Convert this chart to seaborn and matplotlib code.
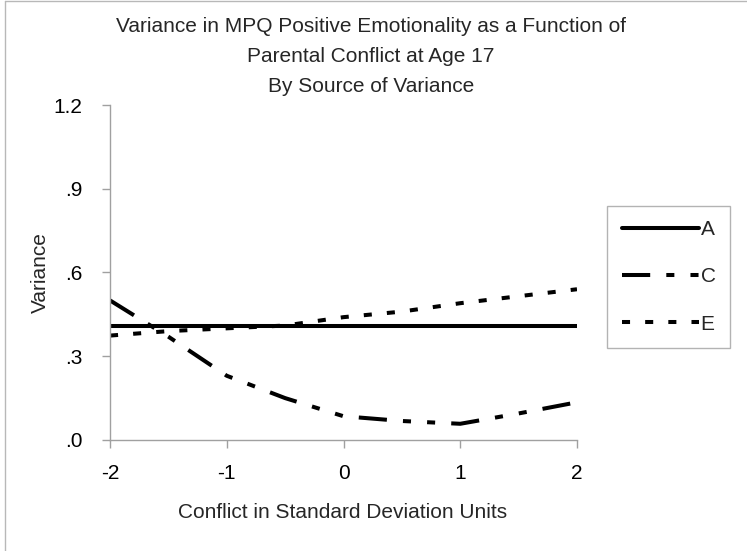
import numpy as np
import pandas as pd
import matplotlib.pyplot as plt
from matplotlib.lines import Line2D
import seaborn as sns

sns.set_style("white")
plt.rcParams["font.family"] = ["Liberation Sans", "DejaVu Sans"]

# Valeurs
CONFLICT = [-2.0, -1.5, -1.0, -0.5, 0.0, 0.5, 1.0, 1.5, 2.0]
VAR_A = [0.41, 0.41, 0.41, 0.41, 0.41, 0.41, 0.41, 0.41, 0.41]
VAR_C = [0.50, 0.37, 0.23, 0.15, 0.085, 0.068, 0.058, 0.095, 0.135]
VAR_E = [0.374, 0.39, 0.40, 0.41, 0.44, 0.46, 0.49, 0.515, 0.54]
SOURCES = ["A", "C", "E"]
Y_TICKS = [0.0, 0.3, 0.6, 0.9, 1.2]
Y_LABELS = [".0", ".3", ".6", ".9", "1.2"]
X_TICKS = [-2, -1, 0, 1, 2]

df = pd.DataFrame({"conflict": CONFLICT, "A": VAR_A, "C": VAR_C, "E": VAR_E})
df = df.melt(id_vars="conflict", var_name="source", value_name="variance")

GRAY = "#a0a0a0"
FS = 15

fig = plt.figure(figsize=(7.47, 5.51), dpi=100)
ax = fig.add_axes([0.1473, 0.2015, 0.6251, 0.6079])

dashes = {"A": "", "C": (7, 4, 2, 4, 2, 4), "E": (2, 3.75)}
sns.lineplot(data=df, x="conflict", y="variance", style="source",
             style_order=SOURCES, dashes=dashes, color="black",
             linewidth=2.9, ax=ax)

ax.set_xlim(-2, 2)
ax.set_ylim(0, 1.2)
ax.set_xticks(X_TICKS)
ax.set_xticklabels([str(t) for t in X_TICKS])
ax.set_yticks(Y_TICKS)
ax.set_yticklabels(Y_LABELS)
ax.tick_params(axis="both", labelsize=FS, colors=GRAY, labelcolor="black",
               length=6, width=1, direction="out")
ax.tick_params(axis="y", pad=14)
ax.tick_params(axis="x", pad=11)
ax.tick_params(bottom=True, left=True)

for side in ["top", "right"]:
    ax.spines[side].set_visible(False)
for side in ["left", "bottom"]:
    ax.spines[side].set_color(GRAY)
    ax.spines[side].set_linewidth(1)

ax.set_xlabel("Conflict in Standard Deviation Units", fontsize=FS)
ax.set_ylabel("Variance", fontsize=FS)
ax.xaxis.set_label_coords(0.499, -0.188)
ax.yaxis.set_label_coords(-0.128, 0.5)

handles, labels = ax.get_legend_handles_labels()
leg = ax.legend(handles, labels, loc="center left",
                bbox_to_anchor=(607 / 747, 1 - 277 / 551),
                bbox_transform=fig.transFigure, borderaxespad=0,
                fontsize=FS, handlelength=3.7, handletextpad=0.1,
                labelspacing=1.35, borderpad=0.7, frameon=True,
                fancybox=False, shadow=False)
leg.get_frame().set_edgecolor(GRAY)
leg.get_frame().set_linewidth(1)

# Titre sur trois lignes
titles = ["Variance in MPQ Positive Emotionality as a Function of",
          "Parental Conflict at Age 17",
          "By Source of Variance"]
for txt, ypx in zip(titles, [26, 56, 86]):
    fig.text(371 / 747, 1 - ypx / 551, txt, ha="center", va="center", fontsize=FS)

# Bordure grise de la zone du graphique
fig.add_artist(Line2D([5 / 747, 5 / 747], [0, 1 - 1 / 551], transform=fig.transFigure,
                      color="#b8b8b8", linewidth=1))
fig.add_artist(Line2D([5 / 747, 1], [1 - 1 / 551, 1 - 1 / 551], transform=fig.transFigure,
                      color="#b8b8b8", linewidth=1))

fig.savefig("out.png", dpi=100)
